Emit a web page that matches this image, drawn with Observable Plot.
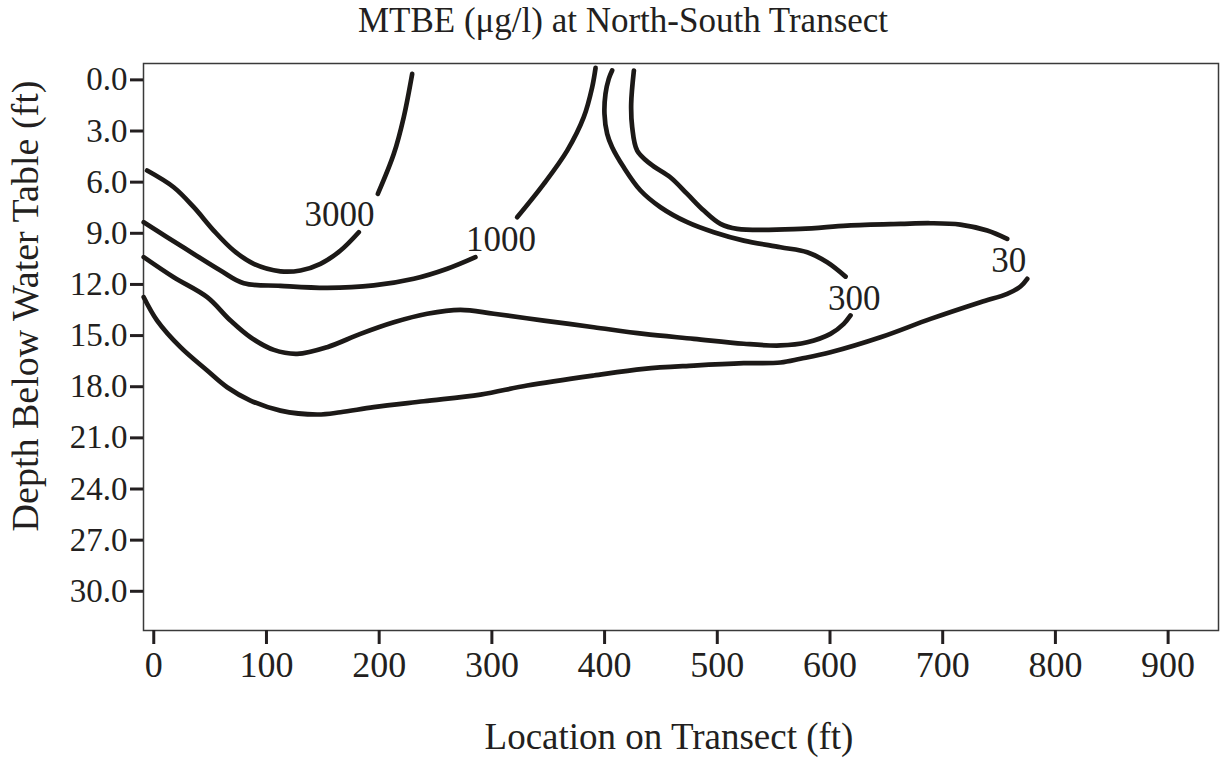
<!DOCTYPE html>
<html>
<head>
<meta charset="utf-8">
<script src="https://cdn.jsdelivr.net/npm/d3@7"></script>
<script src="https://cdn.jsdelivr.net/npm/@observablehq/plot@0.6"></script>
<style>
  html, body { margin: 0; padding: 0; background: #ffffff; }
  #title {
    width: 1221px; height: 42px; line-height: 42px; box-sizing: border-box;
    padding-left: 25px; text-align: center;
    font-family: "Liberation Serif", serif; font-size: 35px; color: #231f20;
  }
</style>
</head>
<body>
<div id="title">MTBE (μg/l) at North-South Transect</div>
<div id="chart"></div>
<script>
// Tick values
const xTicks = [0, 100, 200, 300, 400, 500, 600, 700, 800, 900];
const yTicks = [0, 3, 6, 9, 12, 15, 18, 21, 24, 27, 30];

// Contour lines: [location ft, depth ft]; each contour split where its label sits
const contour3000 = [
  [[-5.9, 5.32], [17.7, 6.30], [35.5, 7.47], [53.2, 8.84], [70.9, 10.01], [88.7, 10.79],
   [112.4, 11.23], [130.2, 11.18], [147.9, 10.79], [165.7, 10.01], [181.9, 8.94]],
  [[198.8, 6.69], [213.0, 4.34], [221.8, 2.19], [229.3, -0.35]]
];
const contour1000 = [
  [[-8.9, 8.35], [11.9, 9.23], [35.5, 10.21], [59.2, 11.18], [79.9, 11.93], [112.4, 12.08],
   [153.9, 12.20], [195.2, 12.06], [230.7, 11.67], [260.4, 11.08], [285.4, 10.40]],
  [[322.4, 8.06], [346.1, 6.10], [366.8, 4.15], [381.5, 2.19], [389.0, 0.43], [392.0, -0.70]]
];
const contour300 = [
  [[-8.9, 10.40], [17.7, 11.58], [47.4, 12.75], [68.1, 14.12], [85.8, 15.10], [106.5, 15.84],
   [127.2, 16.07], [153.9, 15.68], [183.4, 14.90], [213.0, 14.22], [242.6, 13.72], [272.1, 13.49],
   [301.7, 13.72], [346.1, 14.12], [390.4, 14.51], [434.8, 14.90], [479.2, 15.19], [523.5, 15.48],
   [556.1, 15.58], [579.8, 15.39], [600.4, 14.90], [612.2, 14.31], [618.2, 13.82]],
  [[613.8, 11.54], [597.5, 10.70], [579.8, 10.11], [556.1, 9.82], [523.5, 9.43], [496.9, 8.94],
   [473.3, 8.35], [449.6, 7.47], [431.9, 6.49], [417.0, 5.13], [406.7, 3.95], [402.3, 3.17],
   [399.9, 1.99], [400.8, 0.82], [403.7, -0.06], [406.7, -0.55]]
];
const contour30 = [
  [[-8.9, 12.75], [3.0, 14.12], [23.7, 15.68], [47.4, 17.05], [65.1, 18.03], [85.8, 18.81],
   [112.4, 19.40], [145.0, 19.63], [165.7, 19.50], [195.2, 19.20], [239.6, 18.85], [289.9, 18.46],
   [331.3, 17.93], [390.4, 17.34], [434.8, 16.95], [479.2, 16.76], [523.5, 16.62], [556.1, 16.58],
   [573.8, 16.36], [600.4, 15.98], [644.8, 15.10], [689.2, 14.02], [733.5, 13.04], [757.2, 12.55],
   [769.0, 12.12], [775.0, 11.67]],
  [[757.2, 9.33], [739.5, 8.84], [715.6, 8.49], [689.2, 8.41], [662.5, 8.45], [615.3, 8.55],
   [573.8, 8.74], [517.7, 8.74], [502.8, 8.45], [488.0, 7.67], [473.3, 6.69], [458.3, 5.71],
   [440.6, 4.93], [428.9, 4.15], [424.5, 2.78], [423.6, 1.41], [426.0, -0.55]]
];

// Contour labels
const labelText = ["3000", "1000", "300", "30"];
const labelX = [164.8, 308.1, 621.5, 758.7];
const labelY = [7.90, 9.41, 12.85, 10.62];

// Build tables for the library
const contours = {"3000": contour3000, "1000": contour1000, "300": contour300, "30": contour30};
const rows = [];
for (const [level, segs] of Object.entries(contours)) {
  segs.forEach((seg, i) => {
    for (const [x, y] of seg) rows.push({level, seg: level + "-" + i, x, y});
  });
}
const labels = labelText.map((t, i) => ({text: t, x: labelX[i], y: labelY[i]}));

const ink = "#231f20";
const chart = Plot.plot({
  width: 1221,
  height: 716,
  marginTop: 21,
  marginBottom: 128,
  marginLeft: 143,
  marginRight: 3,
  x: {domain: [-9.1, 944.7]},
  y: {domain: [-0.96, 32.3], reverse: true},
  style: {fontFamily: "Liberation Serif", color: ink, background: "#ffffff"},
  marks: [
    Plot.frame({stroke: "#3a3a3a", strokeWidth: 1.5}),
    Plot.axisX({ticks: xTicks, tickSize: 14, tickPadding: 7, fontSize: 36, strokeWidth: 3,
                stroke: ink, fill: ink, label: null, tickFormat: d => String(d)}),
    Plot.axisY({ticks: yTicks, tickSize: 13, tickPadding: 3, fontSize: 33, strokeWidth: 3,
                stroke: ink, fill: ink, label: null, tickFormat: d => d.toFixed(1)}),
    Plot.line(rows, {x: "x", y: "y", z: "seg", curve: "catmull-rom", stroke: "#1c1917", strokeWidth: 4.7}),
    Plot.text(labels, {x: "x", y: "y", text: "text", fontSize: 35, fill: ink}),
    Plot.text(["Location on Transect (ft)"], {text: d => d, frameAnchor: "bottom", textAnchor: "middle",
                lineAnchor: "bottom", dx: -12, dy: 118, fontSize: 37, fill: ink}),
    Plot.text(["Depth Below Water Table (ft)"], {text: d => d, frameAnchor: "left", rotate: -90,
                textAnchor: "middle", lineAnchor: "bottom", dx: -105.5, dy: -41, fontSize: 38, fill: ink})
  ]
});
document.getElementById("chart").appendChild(chart);
</script>
</body>
</html>
